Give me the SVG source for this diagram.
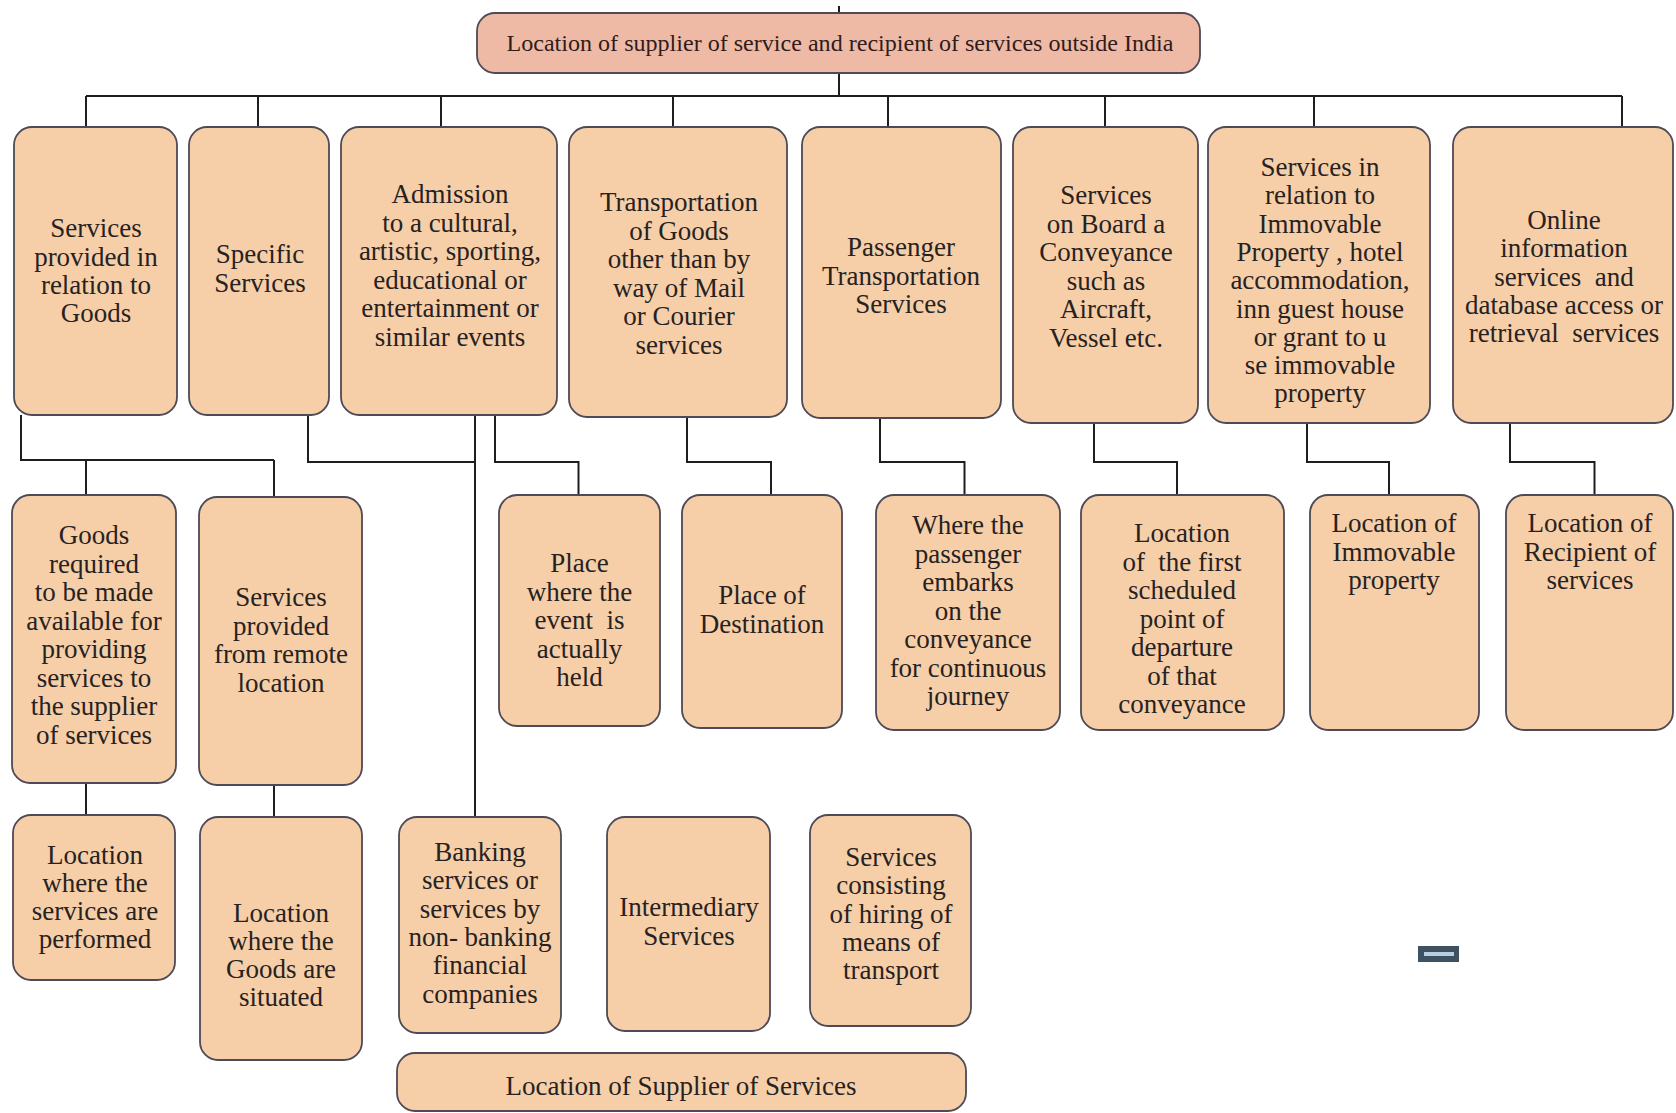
<svg xmlns="http://www.w3.org/2000/svg" width="1676" height="1113" viewBox="0 0 1676 1113">
<style>
.box{fill:#f6cea8;stroke:#4e4a56;stroke-width:1.8}
.top{fill:#efbaa5;stroke:#4e4a56;stroke-width:1.8}
.t{font-family:"Liberation Serif","Times New Roman",serif;font-size:27px;fill:#262222;text-anchor:middle}
.c{fill:none;stroke:#1e1e1e;stroke-width:2}
</style>
<rect width="1676" height="1113" fill="#ffffff"/>
<g id="connectors" class="c">
<path d="M839 6V13M839 73V96M86 96H1622"/>
<path d="M86 96V127M258 96V127M441 96V127M673 96V127M888 96V127M1105 96V127M1314 96V127M1622 96V127"/>
<path d="M21 415V460H274M86 460V495M274 460V497"/>
<path d="M308 415V462H475"/>
<path d="M475 415V817"/>
<path d="M495 415V462H578.5V495"/>
<path d="M687 417V462H771V495"/>
<path d="M880 418V462H964.5V495"/>
<path d="M1094 423V462H1177V495"/>
<path d="M1307 423V462H1389V495"/>
<path d="M1510 423V462H1594.5V495"/>
<path d="M86 783V815M274 785V817"/>
</g>
<g id="root">
<rect class="top" x="477" y="13" width="723" height="60" rx="18"/>
<text class="t" x="840" y="51" textLength="667" lengthAdjust="spacingAndGlyphs" style="font-size:24px;fill:#301c1c">Location of supplier of service and recipient of services outside India</text>
</g>
<g id="goods">
<rect class="box" x="14" y="127" width="163" height="288" rx="18"/>
<text class="t"><tspan x="96" y="237">Services</tspan><tspan x="96" y="266">provided in</tspan><tspan x="96" y="294">relation to</tspan><tspan x="96" y="322">Goods</tspan></text>
</g>
<g id="specific">
<rect class="box" x="189" y="127" width="140" height="288" rx="18"/>
<text class="t"><tspan x="260" y="263">Specific</tspan><tspan x="260" y="292">Services</tspan></text>
</g>
<g id="admission">
<rect class="box" x="341" y="127" width="216" height="288" rx="18"/>
<text class="t"><tspan x="450" y="203">Admission</tspan><tspan x="450" y="231.5">to a cultural,</tspan><tspan x="450" y="260">artistic, sporting,</tspan><tspan x="450" y="288.5">educational or</tspan><tspan x="450" y="317">entertainment or</tspan><tspan x="450" y="345.5">similar events</tspan></text>
</g>
<g id="transport-goods">
<rect class="box" x="569" y="127" width="218" height="290" rx="18"/>
<text class="t"><tspan x="679" y="211">Transportation</tspan><tspan x="679" y="239.5">of Goods</tspan><tspan x="679" y="268">other than by</tspan><tspan x="679" y="296.5">way of Mail</tspan><tspan x="679" y="325">or Courier</tspan><tspan x="679" y="353.5">services</tspan></text>
</g>
<g id="passenger">
<rect class="box" x="802" y="127" width="199" height="291" rx="18"/>
<text class="t"><tspan x="901" y="256">Passenger</tspan><tspan x="901" y="284.5">Transportation</tspan><tspan x="901" y="313">Services</tspan></text>
</g>
<g id="onboard">
<rect class="box" x="1013" y="127" width="185" height="296" rx="18"/>
<text class="t"><tspan x="1106" y="204">Services</tspan><tspan x="1106" y="232.5">on Board a</tspan><tspan x="1106" y="261">Conveyance</tspan><tspan x="1106" y="289.5">such as</tspan><tspan x="1106" y="318">Aircraft,</tspan><tspan x="1106" y="346.5">Vessel etc.</tspan></text>
</g>
<g id="immovable">
<rect class="box" x="1208" y="127" width="222" height="296" rx="18"/>
<text class="t"><tspan x="1320" y="176">Services in</tspan><tspan x="1320" y="204.3">relation to</tspan><tspan x="1320" y="232.6">Immovable</tspan><tspan x="1320" y="260.9">Property , hotel</tspan><tspan x="1320" y="289.2">accommodation,</tspan><tspan x="1320" y="317.5">inn guest house</tspan><tspan x="1320" y="345.8">or grant to u</tspan><tspan x="1320" y="374.1">se immovable</tspan><tspan x="1320" y="402.4">property</tspan></text>
</g>
<g id="online">
<rect class="box" x="1453" y="127" width="220" height="296" rx="18"/>
<text class="t" xml:space="preserve"><tspan x="1564" y="229">Online</tspan><tspan x="1564" y="257.3">information</tspan><tspan x="1564" y="285.6">services  and</tspan><tspan x="1564" y="313.9">database access or</tspan><tspan x="1564" y="342.2">retrieval  services</tspan></text>
</g>
<g id="goods-required">
<rect class="box" x="12" y="495" width="164" height="288" rx="18"/>
<text class="t"><tspan x="94" y="544">Goods</tspan><tspan x="94" y="572.5">required</tspan><tspan x="94" y="601">to be made</tspan><tspan x="94" y="629.5">available for</tspan><tspan x="94" y="658">providing</tspan><tspan x="94" y="686.5">services to</tspan><tspan x="94" y="715">the supplier</tspan><tspan x="94" y="743.5">of services</tspan></text>
</g>
<g id="remote">
<rect class="box" x="199" y="497" width="163" height="288" rx="18"/>
<text class="t"><tspan x="281" y="606">Services</tspan><tspan x="281" y="634.5">provided</tspan><tspan x="281" y="663">from remote</tspan><tspan x="281" y="691.5">location</tspan></text>
</g>
<g id="event-place">
<rect class="box" x="499" y="495" width="161" height="231" rx="18"/>
<text class="t" xml:space="preserve"><tspan x="579.5" y="572">Place</tspan><tspan x="579.5" y="600.5">where the</tspan><tspan x="579.5" y="629">event  is</tspan><tspan x="579.5" y="657.5">actually</tspan><tspan x="579.5" y="686">held</tspan></text>
</g>
<g id="destination">
<rect class="box" x="682" y="495" width="160" height="233" rx="18"/>
<text class="t"><tspan x="762" y="604">Place of</tspan><tspan x="762" y="632.5">Destination</tspan></text>
</g>
<g id="embarks">
<rect class="box" x="876" y="495" width="184" height="235" rx="18"/>
<text class="t"><tspan x="968" y="534">Where the</tspan><tspan x="968" y="562.5">passenger</tspan><tspan x="968" y="591">embarks</tspan><tspan x="968" y="619.5">on the</tspan><tspan x="968" y="648">conveyance</tspan><tspan x="968" y="676.5">for continuous</tspan><tspan x="968" y="705">journey</tspan></text>
</g>
<g id="departure">
<rect class="box" x="1081" y="495" width="203" height="235" rx="18"/>
<text class="t" xml:space="preserve"><tspan x="1182" y="542">Location</tspan><tspan x="1182" y="570.5">of  the first</tspan><tspan x="1182" y="599">scheduled</tspan><tspan x="1182" y="627.5">point of</tspan><tspan x="1182" y="656">departure</tspan><tspan x="1182" y="684.5">of that</tspan><tspan x="1182" y="713">conveyance</tspan></text>
</g>
<g id="immovable-location">
<rect class="box" x="1310" y="495" width="169" height="235" rx="18"/>
<text class="t"><tspan x="1394" y="532">Location of</tspan><tspan x="1394" y="560.5">Immovable</tspan><tspan x="1394" y="589">property</tspan></text>
</g>
<g id="recipient-location">
<rect class="box" x="1506" y="495" width="167" height="235" rx="18"/>
<text class="t"><tspan x="1590" y="532">Location of</tspan><tspan x="1590" y="560.5">Recipient of</tspan><tspan x="1590" y="589">services</tspan></text>
</g>
<g id="performed">
<rect class="box" x="13" y="815" width="162" height="165" rx="18"/>
<text class="t"><tspan x="95" y="864">Location</tspan><tspan x="95" y="892">where the</tspan><tspan x="95" y="920">services are</tspan><tspan x="95" y="948">performed</tspan></text>
</g>
<g id="situated">
<rect class="box" x="200" y="817" width="162" height="243" rx="18"/>
<text class="t"><tspan x="281" y="922">Location</tspan><tspan x="281" y="950">where the</tspan><tspan x="281" y="978">Goods are</tspan><tspan x="281" y="1006">situated</tspan></text>
</g>
<g id="banking">
<rect class="box" x="399" y="817" width="162" height="216" rx="18"/>
<text class="t"><tspan x="480" y="861">Banking</tspan><tspan x="480" y="889.3">services or</tspan><tspan x="480" y="917.6">services by</tspan><tspan x="480" y="945.9">non- banking</tspan><tspan x="480" y="974.2">financial</tspan><tspan x="480" y="1002.5">companies</tspan></text>
</g>
<g id="intermediary">
<rect class="box" x="607" y="817" width="163" height="214" rx="18"/>
<text class="t"><tspan x="689" y="916">Intermediary</tspan><tspan x="689" y="944.5">Services</tspan></text>
</g>
<g id="hiring">
<rect class="box" x="810" y="815" width="161" height="211" rx="18"/>
<text class="t"><tspan x="891" y="866">Services</tspan><tspan x="891" y="894.3">consisting</tspan><tspan x="891" y="922.6">of hiring of</tspan><tspan x="891" y="950.9">means of</tspan><tspan x="891" y="979.2">transport</tspan></text>
</g>
<g id="supplier-location">
<rect class="box" x="397" y="1053" width="569" height="58" rx="18"/>
<text class="t" x="681" y="1095">Location of Supplier of Services</text>
</g>
<g id="mark">
<rect x="1418" y="946" width="41" height="16" fill="#3e5262"/>
<rect x="1424" y="952" width="30" height="4" fill="#b9cfdf"/>
</g>
</svg>
